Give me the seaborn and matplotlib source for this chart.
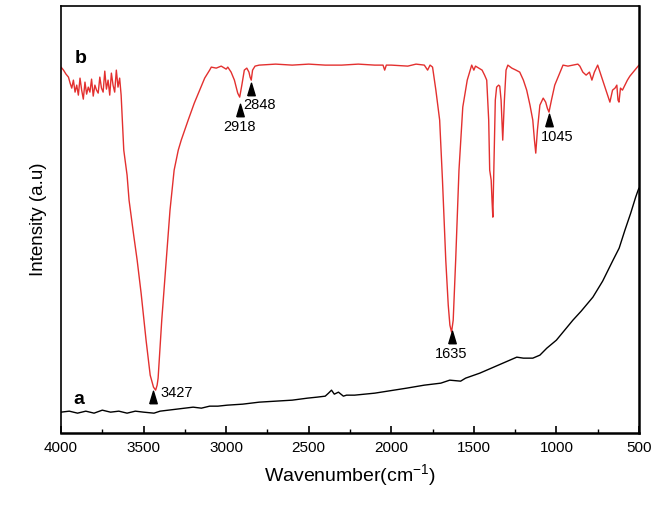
import numpy as np
import pandas as pd
import matplotlib
matplotlib.use('Agg')
import matplotlib.pyplot as plt
import seaborn as sns

# spectrum b (red): wavenumber and intensity (arbitrary units)
wn_b = [4000, 3985, 3970, 3955, 3945, 3935, 3925, 3915, 3905, 3895,
        3885, 3875, 3865, 3855, 3845, 3835, 3825, 3815, 3805, 3795,
        3785, 3775, 3765, 3755, 3745, 3735, 3725, 3715, 3705, 3695,
        3685, 3675, 3665, 3655, 3645, 3636, 3620, 3600, 3588, 3560,
        3539, 3515, 3485, 3460, 3440, 3427, 3418, 3412, 3390, 3363,
        3340, 3315, 3290, 3272, 3230, 3193, 3160, 3130, 3100, 3090,
        3060, 3030, 3000, 2990, 2970, 2950, 2930, 2918, 2905, 2890,
        2875, 2862, 2855, 2848, 2840, 2825, 2800, 2700, 2600, 2500,
        2400, 2300, 2200, 2100, 2050, 2040, 2030, 2000, 1900, 1850,
        1800, 1780, 1765, 1750, 1730, 1707, 1690, 1670, 1655, 1645,
        1635, 1625, 1610, 1590, 1567, 1540, 1513, 1500, 1490, 1470,
        1450, 1435, 1422, 1410, 1404, 1395, 1390, 1385, 1378, 1370,
        1362, 1350, 1343, 1335, 1325, 1315, 1305, 1294, 1270, 1245,
        1222, 1200, 1180, 1160, 1143, 1133, 1125, 1115, 1100, 1080,
        1065, 1055, 1045, 1030, 1010, 985, 960, 930, 900, 870,
        858, 840, 820, 800, 785, 770, 750, 730, 710, 690,
        676, 660, 645, 634, 627, 621, 612, 600, 585, 570,
        555, 540, 525, 510, 500]
int_b = [366, 363, 359, 356, 350, 345, 353, 341, 348, 338,
         355, 343, 334, 351, 339, 346, 341, 354, 337, 348,
         343, 340, 356, 345, 341, 362, 344, 353, 338, 360,
         348, 341, 363, 346, 355, 338, 283, 258, 233, 198,
         173, 140, 93, 58, 46, 43, 48, 55, 113, 173,
         223, 263, 283, 293, 313, 330, 343, 355, 363, 366,
         365, 367, 364, 366, 361, 353, 340, 336, 348, 363,
         365, 361, 356, 353, 363, 367, 368, 369, 368, 369,
         368, 368, 369, 368, 368, 363, 368, 368, 367, 369,
         368, 363, 368, 366, 343, 313, 253, 173, 128, 108,
         101, 113, 173, 263, 326, 353, 368, 363, 367, 365,
         363, 358, 353, 313, 263, 253, 233, 216, 273, 333,
         346, 348, 347, 333, 293, 333, 363, 368, 365, 363,
         361, 353, 343, 328, 313, 293, 280, 303, 328, 335,
         331, 325, 321, 333, 348, 358, 368, 367, 368, 369,
         367, 361, 358, 361, 353, 361, 368, 358, 348, 338,
         331, 343, 345, 348, 333, 331, 345, 343, 348, 353,
         357, 360, 363, 366, 368]

# spectrum a (black)
wn_a = [4000, 3950, 3900, 3850, 3800, 3750, 3700, 3650, 3600, 3550,
        3500, 3437, 3400, 3350, 3300, 3250, 3200, 3150, 3100, 3050,
        2993, 2900, 2800, 2700, 2600, 2508, 2450, 2400, 2380, 2362,
        2345, 2320, 2290, 2271, 2222, 2100, 1907, 1800, 1700, 1646,
        1580, 1550, 1464, 1380, 1282, 1240, 1200, 1143, 1100, 1058,
        1000, 950, 900, 850, 779, 720, 657, 620, 585, 550,
        520, 505, 500]
int_a = [21, 22, 20, 22, 20, 23, 21, 22, 20, 22,
         21, 20, 22, 23, 24, 25, 26, 25, 27, 27,
         28, 29, 31, 32, 33, 35, 36, 37, 40, 43,
         39, 41, 37, 38, 38, 40, 45, 48, 50, 53,
         52, 55, 60, 66, 73, 76, 75, 75, 78, 85,
         93, 103, 113, 122, 136, 152, 173, 185, 203, 220,
         236, 243, 245]

# peak markers on curve b
peak_wn = [3440, 2918, 2848, 1635, 1045]
peak_y = [36, 323, 344, 96, 313]
peak_text = ['3427', '2918', '2848', '1635', '1045']

df = pd.concat([
    pd.DataFrame({'wn': wn_b, 'I': int_b, 'sample': 'b'}),
    pd.DataFrame({'wn': wn_a, 'I': int_a, 'sample': 'a'}),
])

sns.set_style('ticks')
plt.rcParams['font.family'] = ['Liberation Sans', 'DejaVu Sans']
plt.rcParams['mathtext.fontset'] = 'custom'
plt.rcParams['mathtext.rm'] = 'Liberation Sans'
plt.rcParams['mathtext.default'] = 'regular'
for k in ['text.color', 'axes.labelcolor', 'xtick.color', 'axes.edgecolor']:
    plt.rcParams[k] = 'black'

fig = plt.figure(figsize=(6.59, 5.09), dpi=100)
ax = fig.add_axes([0.0926, 0.149, 0.877, 0.839])

sns.lineplot(data=df, x='wn', y='I', hue='sample', palette={'b': '#e3302f', 'a': 'black'},
             linewidth=1.0, legend=False, sort=False, estimator=None, ax=ax)

ax.set_xlim(4000, 500)
ax.set_ylim(0, 427)
ax.set_yticks([])
ax.set_xticks(np.arange(4000, 499, -500))
ax.set_xticks(np.arange(3750, 500, -500), minor=True)
ax.tick_params(axis='x', which='major', direction='in', length=5, width=1.2,
               labelsize=11, pad=6, top=False)
ax.tick_params(axis='x', which='minor', direction='in', length=3, width=1.0, top=False)
for s in ['top', 'left']:
    ax.spines[s].set_linewidth(1.2)
for s in ['bottom', 'right']:
    ax.spines[s].set_linewidth(1.8)

ax.set_xlabel('Wavenumber(cm$^{-1}$)', fontsize=14, labelpad=5)
ax.set_ylabel('Intensity (a.u)', fontsize=13.5, labelpad=10)

# narrow upward triangle like the original markers
tri = [(-0.6, -1.0), (0.6, -1.0), (0.0, 1.0), (-0.6, -1.0)]

# label placement relative to each triangle: (dx in cm-1, dy, ha); x axis is reversed
offsets = {'3427': (-40, 4, 'left'), '2918': (0, -17, 'center'),
           '2848': (48, -16, 'left'), '1635': (0, -17, 'center'),
           '1045': (-48, -17, 'center')}
for x, y, t in zip(peak_wn, peak_y, peak_text):
    ax.plot(x, y, marker=tri, color='black', markersize=9, linestyle='none')
    dx, dy, ha = offsets[t]
    ax.text(x + dx, y + dy, t, ha=ha, va='center', fontsize=10.5)

ax.text(3879, 375, 'b', fontsize=14, fontweight='bold', ha='center', va='center')
ax.text(3890, 34, 'a', fontsize=14, fontweight='bold', ha='center', va='center')

fig.savefig('out.png', dpi=100)
